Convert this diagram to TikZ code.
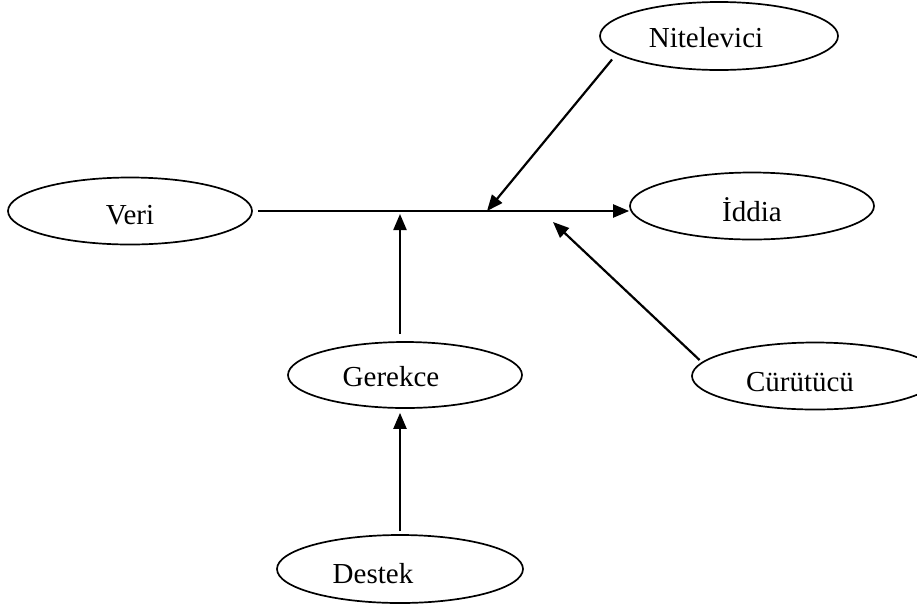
\documentclass[tikz,border=0pt]{standalone}
\usepackage{fontspec}
\setmainfont{Liberation Serif}
\usetikzlibrary{arrows.meta, shapes.geometric}

\begin{document}
\begin{tikzpicture}[x=1pt, y=-1pt, font=\fontsize{29}{31}\selectfont,
  kavram/.style={draw, ellipse, line width=1.7pt, inner sep=0pt,
    minimum width=244pt, minimum height=67pt},
  ok/.style={line width=2.2pt, -{Triangle[length=16pt, width=13pt]}}]
  \useasboundingbox (0,0) rectangle (917,606);
  % Kavramlar
  \node[kavram, label={[yshift=-4pt]center:Veri}] (veri) at (130,211) {};
  \node[kavram, label={[yshift=-4pt]center:İddia}] (iddia) at (752,206) {};
  \node[kavram, minimum width=238pt, minimum height=68pt,
    label={[xshift=-13pt, yshift=-2pt]center:Nitelevici}] (nitelevici) at (719,36) {};
  \node[kavram, minimum width=234pt, minimum height=66pt,
    label={[xshift=-14pt, yshift=-2pt]center:Gerekce}] (gerekce) at (405,375) {};
  \node[kavram, minimum width=246pt, minimum height=68pt,
    label={[xshift=-27pt, yshift=-5pt]center:Destek}] (destek) at (400,569) {};
  \node[kavram, minimum width=246pt,
    label={[xshift=-15pt, yshift=-6pt]center:Cürütücü}] (curutucu) at (815,376) {};
  % Ana hat
  \draw[ok, shorten <=5pt] (veri.east) -- (veri.east -| iddia.west);
  \coordinate (n1) at (487,211);
  \coordinate (g1) at (400,214);
  \coordinate (c1) at (553,222);
  % Yan oklar
  \draw[ok, shorten <=7pt] (nitelevici.190) -- (n1);
  \draw[ok, shorten <=7pt] (g1 |- gerekce.north) -- (g1);
  \draw[ok, shorten <=3pt] (curutucu.173) -- (c1);
  \draw[ok, shorten <=3pt, shorten >=4pt] (destek.north) -- (destek.north |- gerekce.south);
\end{tikzpicture}
\end{document}
